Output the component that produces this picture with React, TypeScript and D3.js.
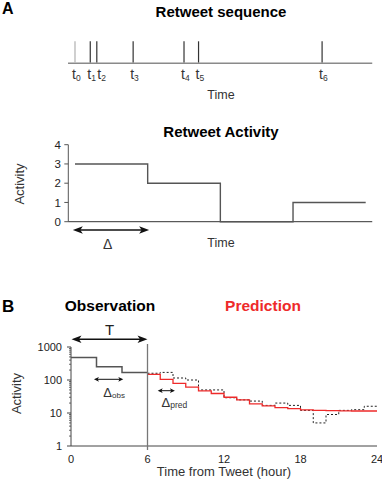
import * as d3 from 'd3';
import React from 'react';

// Panel A: retweet sequence (time in units of the window Δ, t0 = 0)
const seqTimes = [0, 0.21, 0.3, 0.8, 1.5, 1.7, 3.4];
const seqLabels = ['0', '1', '2', '3', '4', '5', '6'];
const activityStarts = [0, 1, 2, 3, 4];
const activityCounts = [3, 2, 0, 1, 1];
const activityTicks = [0, 1, 2, 3, 4];

// Panel B: observation (2 h bins) and prediction / actual (1 h bins)
const obsHours = [0, 2, 4, 6];
const obsValues = [480, 250, 170, 170];
const predHours = [6, 7, 8, 9, 10, 11, 12, 13, 14, 15, 16, 17, 18, 19, 20, 21, 22, 23, 24];
const predValues = [148, 104, 79, 61, 47, 39, 30, 25, 19, 16.5, 14.5, 13.5, 12.5, 12, 11.8, 11.6, 11.5, 11.5, 11.5];
const actualValues = [160, 170, 115, 100, 50, 50, 29, 25, 23, 17, 20, 17, 12, 5, 9, 12, 12.6, 16, 16];
const logTicks = [1, 10, 100, 1000];
const hourTicks = [0, 6, 12, 18, 24];

const FONT = 'Liberation Sans, Arial, Helvetica, sans-serif';
const RED = '#ee2a2a';

const xA = d3.scaleLinear().domain([0, 4]).range([75, 365.7]);
const yA = d3.scaleLinear().domain([0, 4]).range([221.7, 144.7]);
const xB = d3.scaleLinear().domain([0, 24]).range([71, 377]);
const yB = d3.scaleLog().domain([1, 1000]).range([446, 347]);

const minorTicks: number[] = [];
[1, 10, 100].forEach((d) => {
    for (let k = 2; k <= 9; k++) minorTicks.push(d * k);
});

function Arrow({ x1, x2, y, len, half, width }: { x1: number; x2: number; y: number; len: number; half: number; width: number }) {
    return (
        <g>
            <line x1={x1 + len * 0.6} x2={x2 - len * 0.6} y1={y} y2={y} stroke="#111" strokeWidth={width} />
            <polygon points={`${x1},${y} ${x1 + len},${y - half} ${x1 + len * 0.75},${y} ${x1 + len},${y + half}`} fill="#111" />
            <polygon points={`${x2},${y} ${x2 - len},${y - half} ${x2 - len * 0.75},${y} ${x2 - len},${y + half}`} fill="#111" />
        </g>
    );
}

const App: React.FC = () => {
    const stepLine = d3.line<[number, number]>().curve(d3.curveStepAfter);

    const activityPath = stepLine(activityStarts.map((t, i) => [xA(t), yA(activityCounts[i])]));
    const obsPath = stepLine(obsHours.map((h, i) => [xB(h), yB(obsValues[i])]));
    const predPath = stepLine(predHours.map((h, i) => [xB(h), yB(predValues[i])]));
    const actualPath = stepLine(predHours.map((h, i) => [xB(h), yB(actualValues[i])]));

    const seqBase = 63.3;

    // keep the t_i labels from running into each other
    const labelX: number[] = [];
    seqTimes.forEach((t, i) => {
        const want = xA(t) - 3;
        labelX.push(i > 0 ? Math.max(want, labelX[i - 1] + 10) : want);
    });

    return (
        <svg width={382} height={487} style={{ position: 'absolute', left: 0, top: 0, background: '#fff' }} fontFamily={FONT}>
            {/* ---------- Panel A ---------- */}
            <text x={2} y={14} fontSize={16} fontWeight="bold">A</text>
            <text x={221} y={16.5} fontSize={15} fontWeight="bold" textAnchor="middle">Retweet sequence</text>

            <line x1={xA(-0.096)} x2={xA(4.09)} y1={seqBase} y2={seqBase} stroke="#8a8a8a" strokeWidth={1.6} />
            {seqTimes.map((t, i) => (
                <line key={'s' + i} x1={xA(t)} x2={xA(t)} y1={41.3} y2={seqBase - 0.8}
                    stroke={i === 0 ? '#b0b0b0' : '#333'} strokeWidth={1.2} />
            ))}
            {seqTimes.map((t, i) => (
                <text key={'l' + i} x={labelX[i]} y={79} fontSize={14} fill="#333">
                    t<tspan fontSize={8.5} dy={1.5}>{seqLabels[i]}</tspan>
                </text>
            ))}
            <text x={221} y={99} fontSize={12.5} textAnchor="middle" fill="#333">Time</text>

            <text x={221} y={136.5} fontSize={15} fontWeight="bold" textAnchor="middle">Retweet Activity</text>
            <line x1={68.3} x2={68.3} y1={yA(4)} y2={yA(0)} stroke="#555" />
            <line x1={68.3} x2={xA(4.09)} y1={yA(0)} y2={yA(0)} stroke="#333" />
            {activityTicks.map((v) => (
                <g key={'ya' + v}>
                    <line x1={64.3} x2={68.3} y1={yA(v)} y2={yA(v)} stroke="#555" />
                    <text x={61} y={yA(v)} dy="0.36em" fontSize={11.5} textAnchor="end" fill="#222">{v}</text>
                </g>
            ))}
            <path d={activityPath ?? ''} fill="none" stroke="#555" strokeWidth={1.4} />
            <text transform="translate(24,184) rotate(-90)" fontSize={13} textAnchor="middle" fill="#333">Activity</text>
            <Arrow x1={xA(-0.03)} x2={xA(1.02)} y={230} len={10} half={3.8} width={1.6} />
            <text x={107.7} y={249} fontSize={14} textAnchor="middle" fill="#333">Δ</text>
            <text x={221} y={246.5} fontSize={12.5} textAnchor="middle" fill="#333">Time</text>

            {/* ---------- Panel B ---------- */}
            <text x={2} y={311.5} fontSize={17} fontWeight="bold">B</text>
            <text x={110} y={310.5} fontSize={15.5} fontWeight="bold" textAnchor="middle">Observation</text>
            <text x={263} y={310.5} fontSize={15.5} fontWeight="bold" textAnchor="middle" fill={RED}>Prediction</text>

            <text x={109.7} y={335} fontSize={15} textAnchor="middle" fill="#222">T</text>
            <Arrow x1={xB(0) + 0.5} x2={xB(6)} y={339.3} len={10} half={3.8} width={1.6} />

            {/* axes */}
            <line x1={xB(0)} x2={xB(0)} y1={yB(1000)} y2={yB(1)} stroke="#444" />
            <line x1={xB(0)} x2={xB(24)} y1={yB(1)} y2={yB(1)} stroke="#444" />
            {logTicks.map((v) => (
                <g key={'yb' + v}>
                    <line x1={xB(0) - 4} x2={xB(0)} y1={yB(v)} y2={yB(v)} stroke="#444" />
                    <text x={62} y={yB(v)} dy="0.36em" fontSize={11} textAnchor="end" fill="#222">{v}</text>
                </g>
            ))}
            {minorTicks.map((v) => (
                <line key={'m' + v} x1={xB(0) - 2} x2={xB(0)} y1={yB(v)} y2={yB(v)} stroke="#444" strokeWidth={0.8} />
            ))}
            {hourTicks.map((h) => (
                <text key={'x' + h} x={xB(h)} y={463} fontSize={11} textAnchor="middle" fill="#222">{h}</text>
            ))}
            <text x={224} y={475.7} fontSize={13} textAnchor="middle" fill="#333">Time from Tweet (hour)</text>
            <text transform="translate(21,393.5) rotate(-90)" fontSize={13} textAnchor="middle" fill="#333">Activity</text>

            {/* series */}
            <path d={actualPath ?? ''} fill="none" stroke="#222" strokeWidth={1} strokeDasharray="2,2" />
            <path d={predPath ?? ''} fill="none" stroke={RED} strokeWidth={1.3} />
            <path d={obsPath ?? ''} fill="none" stroke="#555" strokeWidth={1.5} />
            <line x1={xB(6)} x2={xB(6)} y1={yB(1000) - 3} y2={yB(1) + 4} stroke="#777" strokeWidth={1.3} />

            <Arrow x1={xB(1.8)} x2={xB(4.1)} y={379.3} len={5} half={2.4} width={1} />
            <text x={103.3} y={396.5} fontSize={13} fill="#333">Δ<tspan fontSize={8} dy={1.5}>obs</tspan></text>
            <Arrow x1={xB(6.8)} x2={xB(8.15)} y={390.7} len={5} half={2.4} width={1} />
            <text x={161.5} y={406.7} fontSize={13} fill="#333">Δ<tspan fontSize={8.5} dy={1.5}>pred</tspan></text>
        </svg>
    );
};

export default App;
